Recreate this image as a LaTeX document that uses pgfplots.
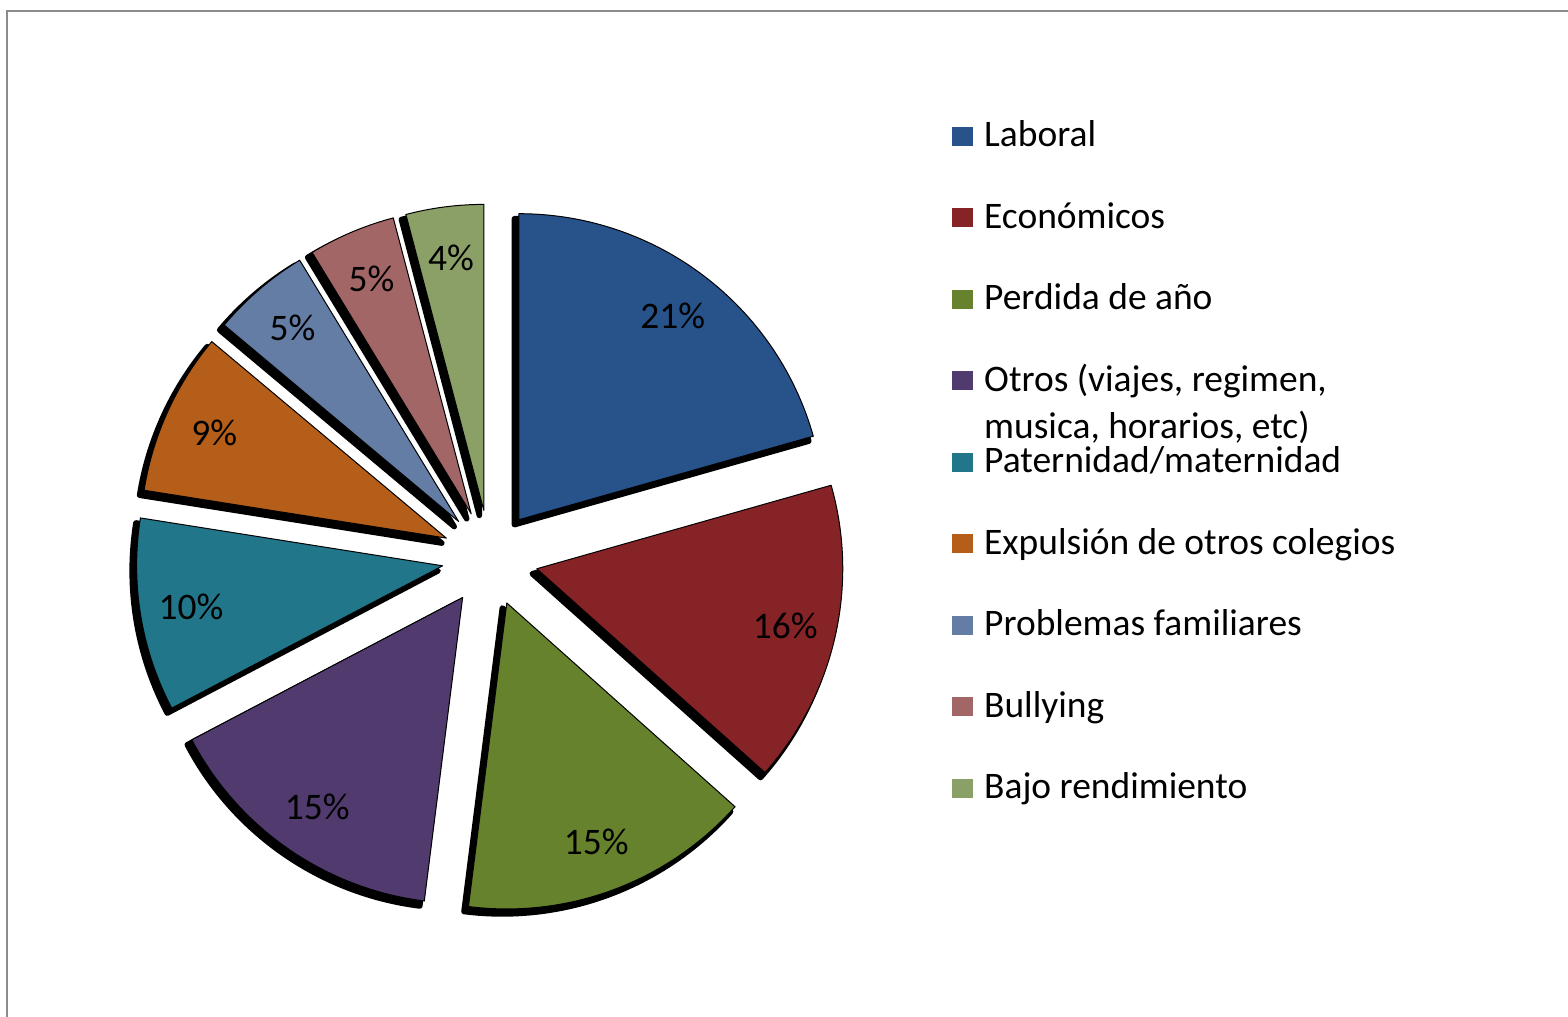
\documentclass[border=0pt]{standalone}
\usepackage{pgfplots}
\usepackage{pgfplotstable}
\pgfplotsset{compat=1.18}
\usepackage{fontspec}
\setmainfont{Carlito}
\definecolor{c1}{HTML}{27528A}
\definecolor{c2}{HTML}{862327}
\definecolor{c3}{HTML}{66822C}
\definecolor{c4}{HTML}{503A6E}
\definecolor{c5}{HTML}{21768A}
\definecolor{c6}{HTML}{B45E1A}
\definecolor{c7}{HTML}{647DA5}
\definecolor{c8}{HTML}{A26666}
\definecolor{c9}{HTML}{8AA066}
\definecolor{frame}{HTML}{8C8C8C}
\newcommand\labfont{\fontsize{37.6pt}{45pt}\selectfont}

\pgfplotstableread{
value color
20.6 c1
16.0 c2
15.4 c3
15.3 c4
10.2 c5
8.6 c6
5.2 c7
4.6 c8
4.1 c9
}\piedata

\begin{document}
\begin{tikzpicture}
\path[use as bounding box] (0,0) rectangle (1568bp,1017bp);
\begin{axis}[x=1bp,y=1bp,xmin=0,xmax=1568,ymin=0,ymax=1017,
  hide axis,anchor=origin,at={(0,0)}]
\def\cx{490}\def\cy{459}\def\R{306}\def\dd{48}
% frame
\draw[frame,line width=2.5bp] (axis cs:7,0) -- (axis cs:7,1006) -- (axis cs:1568,1006);
% shadows
\xdef\cum{90}
\pgfplotsinvokeforeach{0,...,8}{%
  \pgfplotstablegetelem{#1}{value}\of\piedata
  \let\val\pgfplotsretval
  \pgfmathsetmacro\angA{\cum}%
  \pgfmathsetmacro\angB{\cum-3.6*\val}%
  \pgfmathsetmacro\angM{(\angA+\angB)/2}%
  \pgfmathsetmacro\px{\cx+\dd*cos(\angM)}%
  \pgfmathsetmacro\py{\cy+\dd*sin(\angM)}%
  \edef\temp{\noexpand\fill[black,draw=black,line width=5.5bp,line join=round]
    ([shift={(-4.5bp,-5bp)}]axis cs:\px,\py) -- ++(\angA:\R bp)
    arc[start angle=\angA,end angle=\angB,radius=\R bp] -- cycle;}%
  \temp
  \xdef\cum{\angB}%
}
% slices and labels
\xdef\cum{90}
\pgfplotsinvokeforeach{0,...,8}{%
  \pgfplotstablegetelem{#1}{value}\of\piedata
  \let\val\pgfplotsretval
  \pgfplotstablegetelem{#1}{color}\of\piedata
  \let\col\pgfplotsretval
  \pgfmathtruncatemacro\pct{round(\val)}%
  \pgfmathsetmacro\angA{\cum}%
  \pgfmathsetmacro\angB{\cum-3.6*\val}%
  \pgfmathsetmacro\angM{(\angA+\angB)/2}%
  \pgfmathsetmacro\px{\cx+\dd*cos(\angM)}%
  \pgfmathsetmacro\py{\cy+\dd*sin(\angM)}%
  \pgfmathsetmacro\lx{\cx+(\dd+255)*cos(\angM)}%
  \pgfmathsetmacro\ly{\cy+(\dd+255)*sin(\angM)}%
  \edef\temp{\noexpand\fill[\col,draw=black,line width=1bp,line join=round]
    (axis cs:\px,\py) -- ++(\angA:\R bp)
    arc[start angle=\angA,end angle=\angB,radius=\R bp] -- cycle;
    \noexpand\node[font=\noexpand\labfont,inner sep=0pt] at (axis cs:\lx,\ly) {\pct\noexpand\%};}%
  \temp
  \xdef\cum{\angB}%
}
% legend
\pgfplotsinvokeforeach{c1/870,c2/788.5,c3/707,c4/625.5,c5/544,c6/462.5,c7/381,c8/299.5,c9/218}{%
  \def\tmp##1/##2\relax{\fill[##1] (axis cs:952,##2+1) rectangle (axis cs:973,##2+20);}%
  \tmp#1\relax
}
\node[anchor=base west,font=\labfont,inner sep=0pt] at (axis cs:984,870) {Laboral};
\node[anchor=base west,font=\labfont,inner sep=0pt] at (axis cs:984,788.5) {Económicos};
\node[anchor=base west,font=\labfont,inner sep=0pt] at (axis cs:984,707) {Perdida de año};
\node[anchor=base west,font=\labfont,inner sep=0pt] at (axis cs:984,625.5) {Otros (viajes, regimen,};
\node[anchor=base west,font=\labfont,inner sep=0pt] at (axis cs:984,578) {musica, horarios, etc)};
\node[anchor=base west,font=\labfont,inner sep=0pt] at (axis cs:984,544) {Paternidad/maternidad};
\node[anchor=base west,font=\labfont,inner sep=0pt] at (axis cs:984,462.5) {Expulsión de otros colegios};
\node[anchor=base west,font=\labfont,inner sep=0pt] at (axis cs:984,381) {Problemas familiares};
\node[anchor=base west,font=\labfont,inner sep=0pt] at (axis cs:984,299.5) {Bullying};
\node[anchor=base west,font=\labfont,inner sep=0pt] at (axis cs:984,218) {Bajo rendimiento};
\end{axis}
\end{tikzpicture}
\end{document}
